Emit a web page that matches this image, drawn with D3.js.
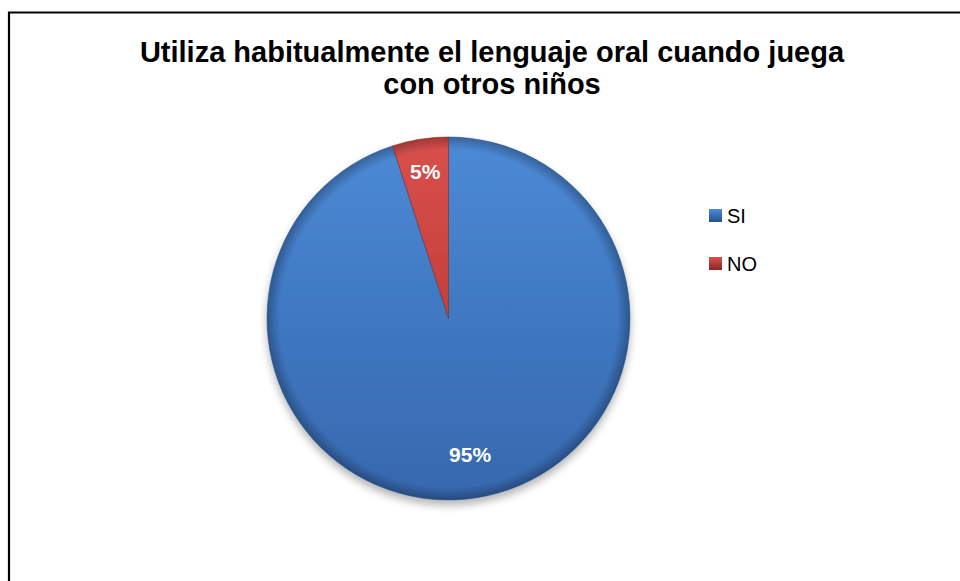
<!DOCTYPE html>
<html><head><meta charset="utf-8">
<script src="https://cdn.jsdelivr.net/npm/d3@7"></script>
<style>body{margin:0;background:#fff}svg{display:block}</style>
</head><body>
<svg id="c" width="960" height="581"></svg>
<script>
const categories = ["SI", "NO"];
const values = [95, 5];
const labels = ["95%", "5%"];
const titleLines = ["Utiliza habitualmente el lenguaje oral cuando juega", "con otros niños"];

const svg = d3.select("#c");
const defs = svg.append("defs");
const cx=448.5, cy=318.5, r=181.5;
const palette = {SI:["#4d8ad6","#3f78c2","#3768ae","#24528a"], NO:["#d9504c","#c43f3b","#b23733","#8a2624"]};
categories.forEach(c=>{
  const lg = defs.append("linearGradient").attr("id","v"+c).attr("gradientUnits","userSpaceOnUse")
    .attr("x1",0).attr("y1",-r).attr("x2",0).attr("y2",r);
  lg.append("stop").attr("offset","0%").attr("stop-color",palette[c][0]);
  lg.append("stop").attr("offset","50%").attr("stop-color",palette[c][1]);
  lg.append("stop").attr("offset","100%").attr("stop-color",palette[c][2]);
  const sq = defs.append("linearGradient").attr("id","l"+c).attr("x1",0).attr("y1",0).attr("x2",0).attr("y2",1);
  sq.append("stop").attr("offset","0%").attr("stop-color",palette[c][0]);
  sq.append("stop").attr("offset","100%").attr("stop-color",palette[c][3]);
});
const edge = defs.append("radialGradient").attr("id","edge").attr("gradientUnits","userSpaceOnUse")
  .attr("cx",0).attr("cy",0).attr("r",r);
edge.append("stop").attr("offset","0%").attr("stop-color","#000").attr("stop-opacity",0);
edge.append("stop").attr("offset","93%").attr("stop-color","#000").attr("stop-opacity",0);
edge.append("stop").attr("offset","100%").attr("stop-color","#000").attr("stop-opacity",0.28);
const f = defs.append("filter").attr("id","sh").attr("x","-20%").attr("y","-20%").attr("width","140%").attr("height","140%");
f.append("feGaussianBlur").attr("in","SourceAlpha").attr("stdDeviation",4);
f.append("feOffset").attr("dx",0).attr("dy",5).attr("result","b");
f.append("feComponentTransfer").append("feFuncA").attr("type","linear").attr("slope",0.3);
const m = f.append("feMerge"); m.append("feMergeNode"); m.append("feMergeNode").attr("in","SourceGraphic");

// frame (left & top lines)
svg.append("path").attr("d","M9,581V12.5H960").attr("fill","none").attr("stroke","#000").attr("stroke-width",2.2);

// title
const t = svg.append("text").attr("text-anchor","middle").attr("font-family","Liberation Sans, Arial, sans-serif")
  .attr("font-weight","bold").attr("font-size",29).attr("fill","#000");
titleLines.forEach((s,i)=>{
  t.append("tspan").attr("x",492).attr("y",i===0?62:94).text(s);
});

// pie
const pie = d3.pie().sort(null).value(d=>d.v);
const data = pie(categories.map((c,i)=>({c, v:values[i], l:labels[i]})));
const arc = d3.arc().innerRadius(0).outerRadius(r);
const g = svg.append("g").attr("transform",`translate(${cx},${cy})`);
const pg = g.append("g").attr("filter","url(#sh)");
pg.selectAll("path.s").data(data).join("path").attr("class","s").attr("d",arc)
  .attr("fill",d=>`url(#v${d.data.c})`);
pg.selectAll("path.e").data(data).join("path").attr("class","e").attr("d",arc)
  .attr("fill","url(#edge)").attr("stroke",d=>palette[d.data.c][3]).attr("stroke-width",0.7).attr("stroke-opacity",0.7);

const labNO = d3.arc().innerRadius(r*0.82).outerRadius(r*0.82);
const labSI = d3.arc().innerRadius(r*0.76).outerRadius(r*0.76);
g.selectAll("text.lbl").data(data).join("text").attr("class","lbl")
  .attr("transform",d=>`translate(${(d.data.c==="NO"?labNO:labSI).centroid(d)})`)
  .attr("text-anchor","middle").attr("dy","0.35em")
  .attr("font-family","Liberation Sans, Arial, sans-serif").attr("font-weight","bold").attr("font-size",21)
  .attr("fill","#fff").text(d=>d.data.l);

// legend
const lg = svg.append("g").attr("transform","translate(709,209)");
categories.forEach((c,i)=>{
  const row = lg.append("g").attr("transform",`translate(0,${i*48})`);
  row.append("rect").attr("width",13).attr("height",13).attr("fill",`url(#l${c})`);
  row.append("text").attr("x",18).attr("y",13.5).attr("font-family","Liberation Sans, Arial, sans-serif")
    .attr("font-size",20).attr("fill","#000").text(c);
});
</script>
</body></html>
